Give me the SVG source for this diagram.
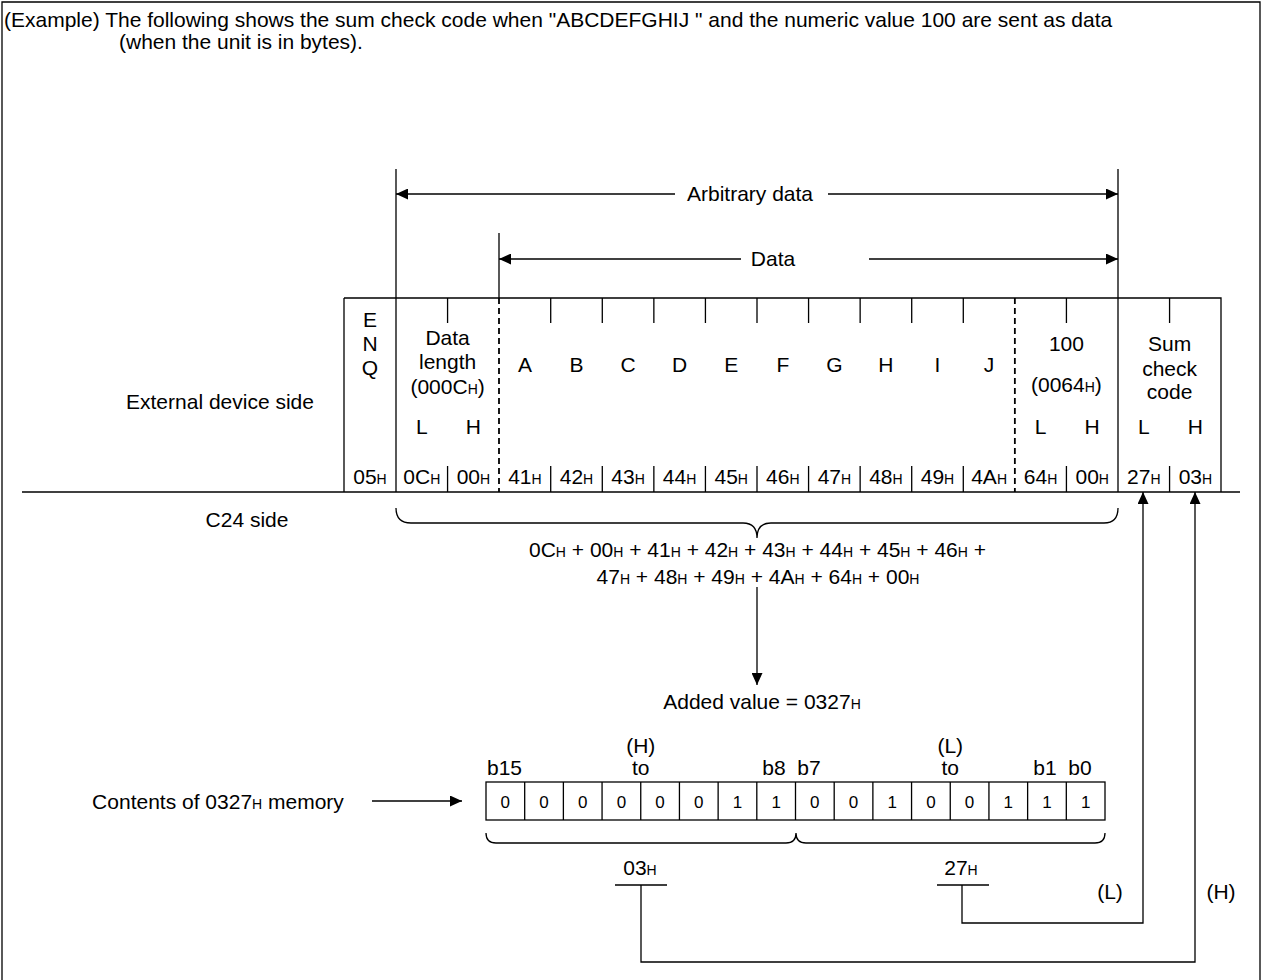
<svg xmlns="http://www.w3.org/2000/svg" width="1262" height="980" viewBox="0 0 1262 980">
<style>
.t{font-family:"Liberation Sans",Arial,sans-serif;font-size:21px;fill:#000}
.m{text-anchor:middle}
.e{text-anchor:end}
.s{font-size:14px}
.bit{font-size:17px}
.ln{stroke:#000;stroke-width:1.3;fill:none}
.dash{stroke:#000;stroke-width:1.8;stroke-dasharray:6 4;fill:none}
</style>
<defs>
<marker id="ah" markerUnits="userSpaceOnUse" markerWidth="12" markerHeight="11" refX="12" refY="5.5" orient="auto">
<path d="M0,0 L12,5.5 L0,11 z" fill="#000"/>
</marker>
</defs>
<rect width="1262" height="980" fill="#fff"/>
<path class="ln" d="M2,980 V2 H1260 V980"/>

<g id="header" class="t">
<text x="4" y="27">(Example) The following shows the sum check code when "ABCDEFGHIJ " and the numeric value 100 are sent as data</text>
<text x="119" y="49">(when the unit is in bytes).</text>
</g>

<g id="side-labels" class="t m">
<text x="220" y="409">External device side</text>
<text x="247" y="527">C24 side</text>
<text x="218" y="809">Contents of 0327<tspan class="s">H</tspan> memory</text>
</g>

<g id="frame">
<path class="ln" d="M344,298 H1221 V492 M344,298 V492 M396,169 V492 M1118,169 V492 M499,233 V298"/>
<path class="dash" d="M499,298 V492 M1014.86,298 V492"/>
<path class="ln" d="M447.57,298 V323 M550.71,298 V323 M602.29,298 V323 M653.86,298 V323 M705.43,298 V323 M757,298 V323 M808.57,298 V323 M860.14,298 V323 M911.71,298 V323 M963.29,298 V323 M1066.43,298 V323 M1169.57,298 V323"/>
<path class="ln" d="M447.57,466 V492 M550.71,466 V492 M602.29,466 V492 M653.86,466 V492 M705.43,466 V492 M757,466 V492 M808.57,466 V492 M860.14,466 V492 M911.71,466 V492 M963.29,466 V492 M1066.43,466 V492 M1169.57,466 V492"/>
<g class="t m">
<text x="370" y="327">E</text>
<text x="370" y="351">N</text>
<text x="370" y="375">Q</text>
<text x="447.6" y="345">Data</text>
<text x="447.6" y="369">length</text>
<text x="447.6" y="394">(000C<tspan class="s">H</tspan>)</text>
<text x="421.8" y="434">L</text>
<text x="473.4" y="434">H</text>
<text x="524.9" y="372">A</text>
<text x="576.5" y="372">B</text>
<text x="628.1" y="372">C</text>
<text x="679.6" y="372">D</text>
<text x="731.2" y="372">E</text>
<text x="782.8" y="372">F</text>
<text x="834.4" y="372">G</text>
<text x="885.9" y="372">H</text>
<text x="937.5" y="372">I</text>
<text x="989.1" y="372">J</text>
<text x="1066.4" y="351">100</text>
<text x="1066.4" y="392">(0064<tspan class="s">H</tspan>)</text>
<text x="1040.6" y="434">L</text>
<text x="1092.2" y="434">H</text>
<text x="1169.6" y="351">Sum</text>
<text x="1169.6" y="376">check</text>
<text x="1169.6" y="399">code</text>
<text x="1143.8" y="434">L</text>
<text x="1195.4" y="434">H</text>
<text x="370" y="484">05<tspan class="s">H</tspan></text>
<text x="421.8" y="484">0C<tspan class="s">H</tspan></text>
<text x="473.4" y="484">00<tspan class="s">H</tspan></text>
<text x="524.9" y="484">41<tspan class="s">H</tspan></text>
<text x="576.5" y="484">42<tspan class="s">H</tspan></text>
<text x="628.1" y="484">43<tspan class="s">H</tspan></text>
<text x="679.6" y="484">44<tspan class="s">H</tspan></text>
<text x="731.2" y="484">45<tspan class="s">H</tspan></text>
<text x="782.8" y="484">46<tspan class="s">H</tspan></text>
<text x="834.4" y="484">47<tspan class="s">H</tspan></text>
<text x="885.9" y="484">48<tspan class="s">H</tspan></text>
<text x="937.5" y="484">49<tspan class="s">H</tspan></text>
<text x="989.1" y="484">4A<tspan class="s">H</tspan></text>
<text x="1040.6" y="484">64<tspan class="s">H</tspan></text>
<text x="1092.2" y="484">00<tspan class="s">H</tspan></text>
<text x="1143.8" y="484">27<tspan class="s">H</tspan></text>
<text x="1195.4" y="484">03<tspan class="s">H</tspan></text>
</g>
</g>

<g id="range-labels" class="t m">
<text x="750" y="201">Arbitrary data</text>
<text x="773" y="266">Data</text>
</g>

<g id="sum-calc">
<path class="ln" d="M396,508 Q396,523 411,523 H743 Q757,523 757,538 Q757,523 771,523 H1104 Q1118,523 1118,508"/>
<g class="t m">
<text x="757.5" y="557">0C<tspan class="s">H</tspan> + 00<tspan class="s">H</tspan> + 41<tspan class="s">H</tspan> + 42<tspan class="s">H</tspan> + 43<tspan class="s">H</tspan> + 44<tspan class="s">H</tspan> + 45<tspan class="s">H</tspan> + 46<tspan class="s">H</tspan> +</text>
<text x="758" y="584">47<tspan class="s">H</tspan> + 48<tspan class="s">H</tspan> + 49<tspan class="s">H</tspan> + 4A<tspan class="s">H</tspan> + 64<tspan class="s">H</tspan> + 00<tspan class="s">H</tspan></text>
<text x="762" y="709">Added value = 0327<tspan class="s">H</tspan></text>
</g>
</g>

<g id="memory">
<rect class="ln" x="486" y="782" width="619" height="38"/>
<path class="ln" d="M524.69,782 V820 M563.38,782 V820 M602.06,782 V820 M640.75,782 V820 M679.44,782 V820 M718.13,782 V820 M756.81,782 V820 M795.5,782 V820 M834.19,782 V820 M872.88,782 V820 M911.56,782 V820 M950.25,782 V820 M988.94,782 V820 M1027.63,782 V820 M1066.31,782 V820"/>
<g class="t m">
<text x="487" y="775" style="text-anchor:start">b15</text>
<text x="640.75" y="753">(H)</text>
<text x="640.75" y="775">to</text>
<text x="774" y="775">b8</text>
<text x="809" y="775">b7</text>
<text x="950.25" y="753">(L)</text>
<text x="950.25" y="775">to</text>
<text x="1045" y="775">b1</text>
<text x="1080" y="775">b0</text>
</g>
<g class="t m bit">
<text x="505.3" y="808">0</text>
<text x="544" y="808">0</text>
<text x="582.7" y="808">0</text>
<text x="621.4" y="808">0</text>
<text x="660.1" y="808">0</text>
<text x="698.8" y="808">0</text>
<text x="737.5" y="808">1</text>
<text x="776.2" y="808">1</text>
<text x="814.8" y="808">0</text>
<text x="853.5" y="808">0</text>
<text x="892.2" y="808">1</text>
<text x="930.9" y="808">0</text>
<text x="969.6" y="808">0</text>
<text x="1008.3" y="808">1</text>
<text x="1047" y="808">1</text>
<text x="1085.7" y="808">1</text>
</g>
<path class="ln" d="M486,833 Q486,843 496,843 H786 Q796,843 796,833 Q796,843 806,843 H1095 Q1105,843 1105,833"/>
<g class="t m">
<text x="640" y="875">03<tspan class="s">H</tspan></text>
<text x="961" y="875">27<tspan class="s">H</tspan></text>
<text x="1110" y="899">(L)</text>
<text x="1221" y="899">(H)</text>
</g>
</g>

<g id="connectors">
<path class="ln" d="M22,492 H1240"/>
<path class="ln" d="M675,194 H396" marker-end="url(#ah)"/>
<path class="ln" d="M828,194 H1118" marker-end="url(#ah)"/>
<path class="ln" d="M741,259 H499" marker-end="url(#ah)"/>
<path class="ln" d="M869,259 H1118" marker-end="url(#ah)"/>
<path class="ln" d="M757,587 V685" marker-end="url(#ah)"/>
<path class="ln" d="M372,801 H462" marker-end="url(#ah)"/>
<path class="ln" d="M615,885 H667 M937,885 H989"/>
<path class="ln" d="M641,885 V962 H1195 V492" marker-end="url(#ah)"/>
<path class="ln" d="M962,885 V923 H1143 V492" marker-end="url(#ah)"/>
</g>
</svg>
